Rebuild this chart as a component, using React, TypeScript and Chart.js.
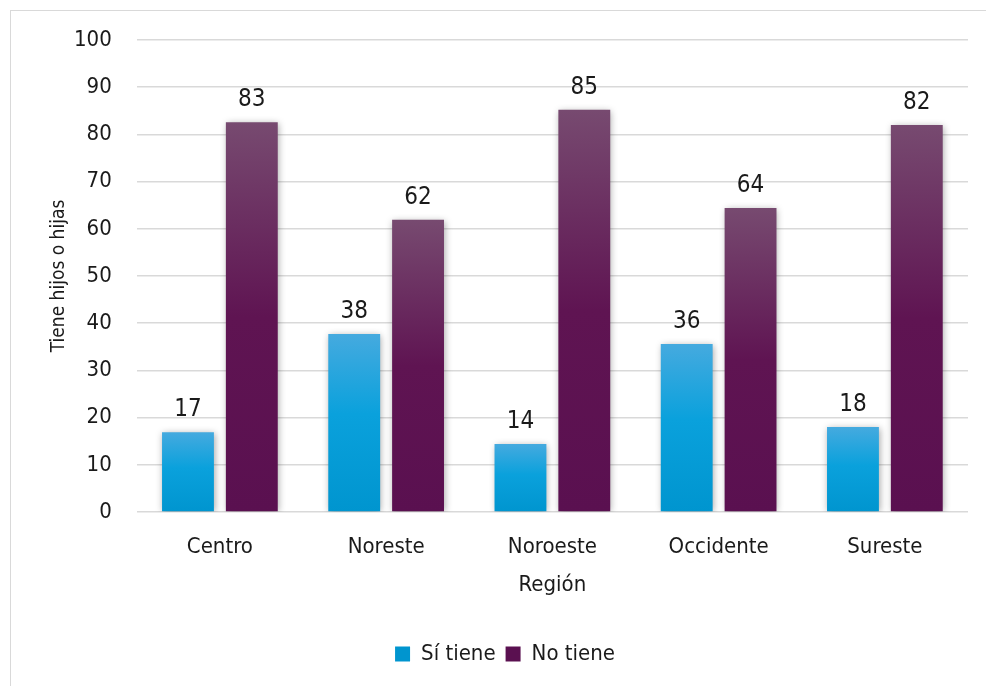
import React, { useEffect, useRef } from "react";
import { Chart, registerables } from "chart.js";

Chart.register(...registerables);

const categories = ["Centro", "Noreste", "Noroeste", "Occidente", "Sureste"];
const seriesNames = ["Sí tiene", "No tiene"];
const siTiene = [16.9, 37.7, 14.4, 35.6, 18.0];
const noTiene = [82.6, 61.9, 85.2, 64.4, 82.0];
const yTitle = "Tiene hijos o hijas";
const xTitle = "Región";

const FONT = "'Liberation Sans Narrow', 'DejaVu Sans Condensed', 'Arial Narrow', sans-serif";
const TEXT = "#1a1a1a";

const blueStops: [number, string][] = [
  [0, "#45aadf"],
  [0.45, "#0aa1dc"],
  [1, "#0095cf"],
];
const purpleStops: [number, string][] = [
  [0, "#774a70"],
  [0.5, "#5f1452"],
  [1, "#5a1050"],
];

function gradientFor(stops: [number, string][], solid: string) {
  return (ctx: any) => {
    const chart = ctx.chart;
    if (ctx.type !== "data" || !chart.chartArea || !chart.scales.y) return solid;
    const y = chart.scales.y;
    const top = y.getPixelForValue(ctx.raw);
    const base = y.getPixelForValue(0);
    if (!isFinite(top) || !isFinite(base) || base - top < 1) return solid;
    const g = chart.ctx.createLinearGradient(0, top, 0, base);
    stops.forEach(([o, c]) => g.addColorStop(o, c));
    return g;
  };
}

const shadowPlugin = {
  id: "barShadow",
  beforeDatasetsDraw(chart: any) {
    const c = chart.ctx;
    c.save();
    c.shadowColor = "rgba(0,0,0,0.35)";
    c.shadowBlur = 7;
    c.shadowOffsetX = 1;
    c.shadowOffsetY = 1;
  },
  afterDatasetsDraw(chart: any) {
    chart.ctx.restore();
    const c = chart.ctx;
    c.save();
    c.font = `24px ${FONT}`;
    c.fillStyle = TEXT;
    c.textAlign = "center";
    c.textBaseline = "alphabetic";
    chart.data.datasets.forEach((ds: any, di: number) => {
      const meta = chart.getDatasetMeta(di);
      meta.data.forEach((el: any, i: number) => {
        c.fillText(String(Math.round(ds.data[i])), el.x, el.y - 16);
      });
    });
    c.restore();
  },
};

export default function App() {
  const ref = useRef<HTMLCanvasElement | null>(null);
  useEffect(() => {
    if (!ref.current) return;
    Chart.defaults.font.family = FONT;
    Chart.defaults.color = TEXT;
    const chart = new Chart(ref.current, {
      type: "bar",
      data: {
        labels: categories,
        datasets: [
          {
            label: seriesNames[0],
            data: siTiene,
            backgroundColor: gradientFor(blueStops, "#0aa1dc"),
            categoryPercentage: 0.768,
            barPercentage: 0.8125,
          },
          {
            label: seriesNames[1],
            data: noTiene,
            backgroundColor: gradientFor(purpleStops, "#5f1452"),
            categoryPercentage: 0.768,
            barPercentage: 0.8125,
          },
        ],
      },
      options: {
        responsive: false,
        animation: false,
        devicePixelRatio: 1,
        layout: { padding: { left: 42, right: 18, top: 40, bottom: 11 } },
        plugins: {
          tooltip: { enabled: false },
          legend: {
            position: "bottom",
            labels: {
              boxWidth: 15,
              boxHeight: 15,
              padding: 10,
              font: { size: 22, family: FONT },
              color: TEXT,
            },
          },
        },
        scales: {
          x: {
            grid: { display: false, drawTicks: false },
            border: { display: false },
            ticks: { padding: 22, font: { size: 22, family: FONT }, color: TEXT },
            title: {
              display: true,
              text: xTitle,
              font: { size: 22, family: FONT },
              color: TEXT,
              padding: { top: -10.6, bottom: 34.8 },
            },
          },
          y: {
            min: 0,
            max: 100,
            grid: { color: "#d9d9d9", lineWidth: 1.5, drawTicks: false },
            border: { display: false },
            ticks: { stepSize: 10, padding: 25, font: { size: 22, family: FONT }, color: TEXT },
            title: {
              display: true,
              text: yTitle,
              font: { size: 19, family: FONT },
              color: TEXT,
              padding: { top: 6, bottom: -21.8 },
            },
          },
        },
      },
      plugins: [shadowPlugin],
    });
    return () => chart.destroy();
  }, []);

  return (
    <div style={{ position: "fixed", left: 0, top: 0, width: 986, height: 686, overflow: "hidden", background: "#fff" }}>
      <div
        style={{
          position: "absolute",
          left: 10,
          top: 10,
          width: 1000,
          height: 1000,
          border: "1px solid #d9d9d9",
        }}
      />
      <canvas ref={ref} width={986} height={686} style={{ position: "absolute", left: 0, top: 0 }} />
    </div>
  );
}
